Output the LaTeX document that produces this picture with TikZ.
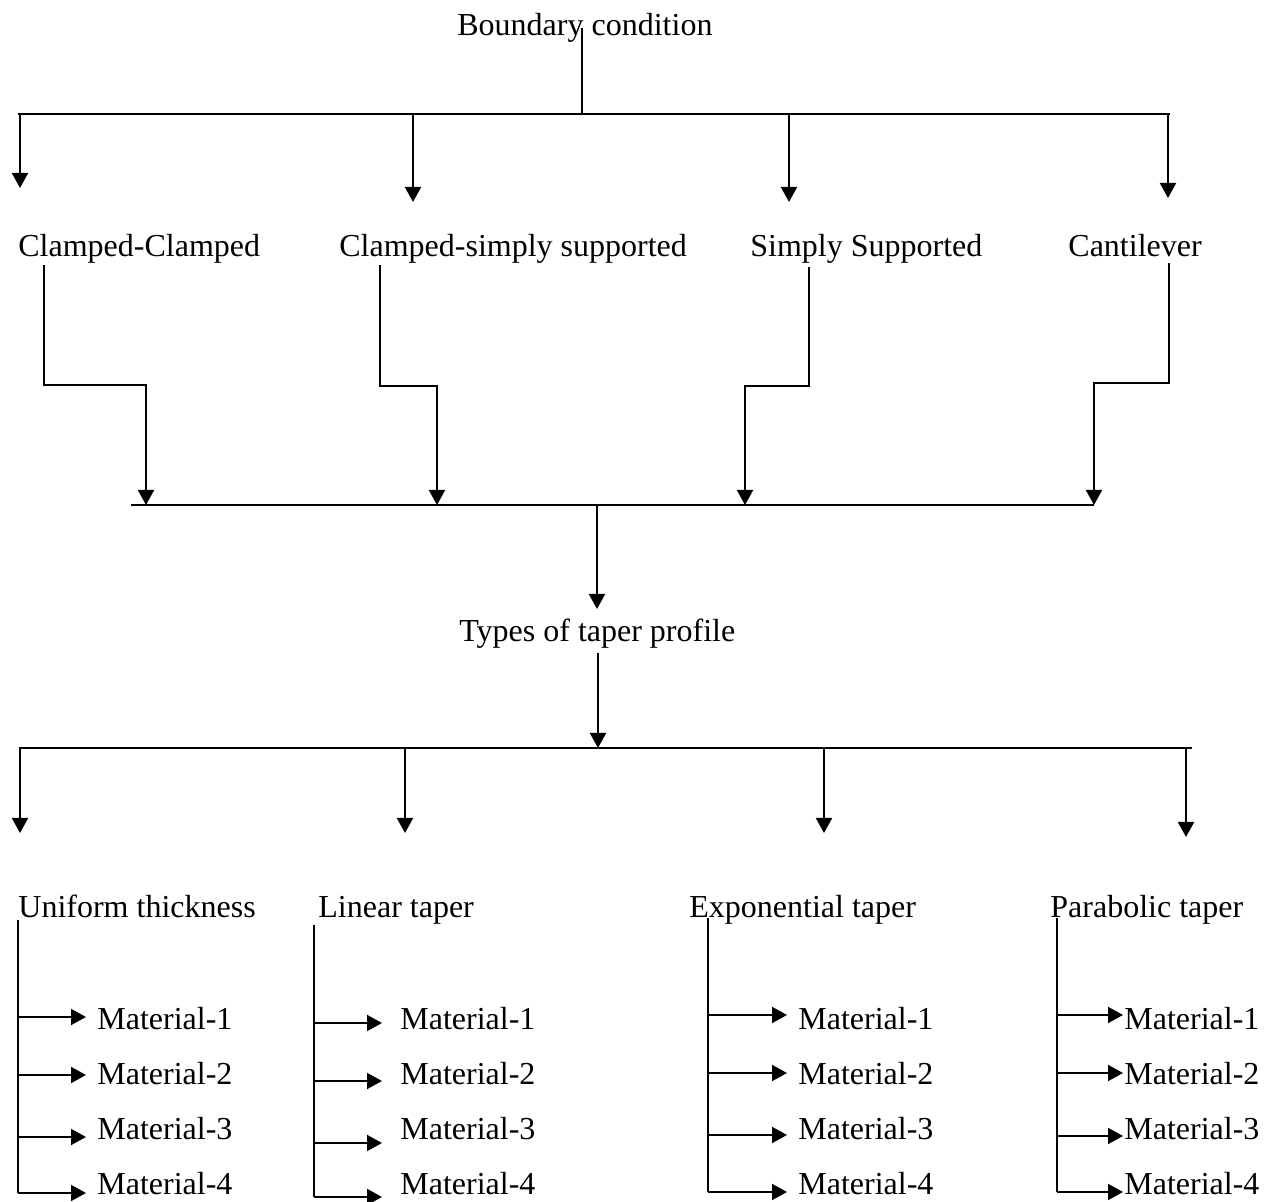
\documentclass[tikz,border=0pt]{standalone}
\usepackage{fontspec}
\setmainfont{Liberation Serif}
\usetikzlibrary{arrows.meta}
\begin{document}
\begin{tikzpicture}[x=0.5pt,y=-0.5pt,
  lbl/.style={anchor=base west,inner sep=0pt,font=\fontsize{16}{19}\selectfont},
  conn/.style={line width=1pt},
  arr/.style={conn,-{Triangle[width=8pt,length=7.5pt]}}]
\useasboundingbox (0,0) rectangle (1265,1202);
% ---------- labels ----------
\node[lbl] (bc) at (457,36) {Boundary condition};
\node[lbl] (cc) at (18,257) {Clamped-Clamped};
\node[lbl] (css) at (339,257) {Clamped-simply supported};
\node[lbl] (ss) at (750,257) {Simply Supported};
\node[lbl] (cant) at (1068,257) {Cantilever};
\node[lbl] (tp) at (459,642) {Types of taper profile};
\node[lbl] (ut) at (18,918) {Uniform thickness};
\node[lbl] (lt) at (318,918) {Linear taper};
\node[lbl] (et) at (689,918) {Exponential taper};
\node[lbl] (pt) at (1050,918) {Parabolic taper};
% ---------- top tree ----------
\coordinate (b0) at (582,28);
\coordinate (b1) at (582,114);
\coordinate (hl) at (18,114);
\coordinate (hr) at (1170,114);
\draw[conn] (b0) -- (b1);
\draw[conn] (hl) -- (hr);
\coordinate (a1) at (20,114);   \coordinate (t1) at (20,188);
\coordinate (a2) at (413,114);  \coordinate (t2) at (413,202);
\coordinate (a3) at (789,114);  \coordinate (t3) at (789,202);
\coordinate (a4) at (1168,114); \coordinate (t4) at (1168,198);
\draw[arr] (a1) -- (t1);
\draw[arr] (a2) -- (t2);
\draw[arr] (a3) -- (t3);
\draw[arr] (a4) -- (t4);
% ---------- elbows ----------
\coordinate (m1) at (146,505);
\coordinate (m2) at (437,505);
\coordinate (m3) at (745,505);
\coordinate (m4) at (1094,505);
\draw[arr] (44,265) |- (146,385) -- (m1);
\draw[arr] (380,265) |- (437,386) -- (m2);
\draw[arr] (809,267) |- (745,386) -- (m3);
\draw[arr] (1169,263) |- (1094,383) -- (m4);
\coordinate (ml) at (131,505);
\draw[conn] (ml) -- (m4);
\coordinate (mc) at (597,505);
\coordinate (mt) at (597,609);
\draw[arr] (mc) -- (mt);
% ---------- taper tree ----------
\coordinate (p0) at (598,653);
\coordinate (p1) at (598,748);
\draw[arr] (p0) -- (p1);
\coordinate (ql) at (19,748);
\coordinate (qr) at (1192,748);
\draw[conn] (ql) -- (qr);
\foreach \x/\t [count=\i] in {20/833,405/833,824/833,1186/837}{
  \coordinate (q\i) at (\x,748);
  \coordinate (r\i) at (\x,\t);
  \draw[arr] (q\i) -- (r\i);
}
% ---------- material lists ----------
% uniform
\draw[conn] (18,920) -- (18,1193);
\foreach \y/\b [count=\i] in {1017/1030,1075/1085,1137/1140,1193/1195}{
  \node[lbl] (u\i) at (97,\b) {Material-\i};
  \draw[arr] (18,\y) -- (86,\y);
}
% linear
\draw[conn] (314,925) -- (314,1197);
\foreach \y/\b [count=\i] in {1023/1030,1081/1085,1143/1140,1197/1195}{
  \node[lbl] (l\i) at (400,\b) {Material-\i};
  \draw[arr] (314,\y) -- (382,\y);
}
% exponential
\draw[conn] (708,918) -- (708,1192);
\foreach \y/\b [count=\i] in {1015/1030,1073/1085,1135/1140,1192/1195}{
  \node[lbl] (e\i) at (798,\b) {Material-\i};
  \draw[arr] (708,\y) -- (787,\y);
}
% parabolic
\draw[conn] (1057,918) -- (1057,1192);
\foreach \y/\b [count=\i] in {1015/1030,1073/1085,1136/1140,1192/1195}{
  \node[lbl] (pm\i) at (1124,\b) {Material-\i};
  \draw[arr] (1057,\y) -- (1123,\y);
}
\end{tikzpicture}
\end{document}
